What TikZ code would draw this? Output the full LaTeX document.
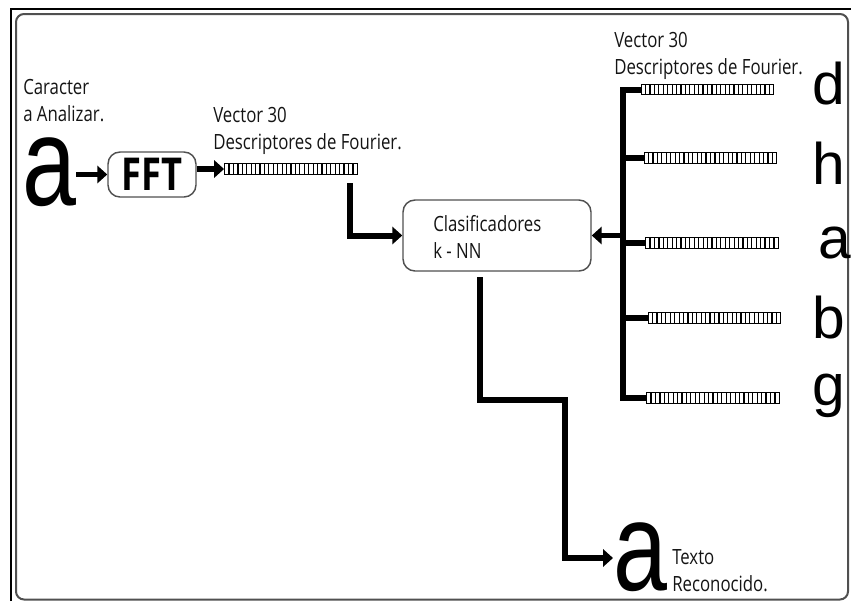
\documentclass[tikz,border=0pt]{standalone}
\usepackage{fontspec}
\usetikzlibrary{arrows.meta,calc}
\newfontfamily\uifont[FakeStretch=0.8]{Open Sans}
\newfontfamily\letfont[FakeStretch=0.77]{Liberation Sans}
\newfontfamily\letfontB{Liberation Sans}
\definecolor{txt}{HTML}{141414}
\definecolor{frm}{HTML}{505050}
\tikzset{
  lbl/.style={anchor=base west, inner sep=0pt, align=left, text=txt,
    font=\uifont\fontsize{15.75}{20.25}\selectfont},
  bigletter/.style={anchor=base west, inner sep=0pt,
    font=\letfont\fontsize{94.5}{94.5}\selectfont},
  smallletter/.style={anchor=base west, inner sep=0pt,
    font=\letfontB\fontsize{44}{44}\selectfont},
  rbox/.style={draw=frm, line width=1.1pt, rounded corners=9pt, fill=white},
  vbar/.style={draw=black, line width=0.9pt, minimum width=99.5pt, minimum height=8pt,
    inner sep=0pt, path picture={
      \foreach \i in {1,...,29}{
        \draw[line width=0.9pt]
          ($(path picture bounding box.south west)!\i/30!(path picture bounding box.south east)$) --
          ($(path picture bounding box.north west)!\i/30!(path picture bounding box.north east)$);}}},
  conn/.style={line width=4.5pt, line cap=butt},
  arr/.style={line width=4pt, -{Triangle[length=7.5pt,width=13pt]}},
}
\begin{document}
\begin{tikzpicture}[x=0.75pt,y=-0.75pt]
\useasboundingbox (0,0) rectangle (851,601);
% frame
\draw[line width=1.5pt] (11,601) -- (11,9) -- (851,9);
\draw[draw=frm, line width=1.5pt, rounded corners=6pt] (16,14) rectangle (848,599.5);

% left part
\node[lbl] (lab1) at (23,121) {Caracter\\a Analizar.};
\node[bigletter] (aL) at (22,205) {a};
\node[rbox, minimum width=66pt, minimum height=33.75pt, inner sep=0pt,
      font=\uifont\bfseries\fontsize{34}{34}\selectfont] (fft) at (152,174.5) {FFT};
\node[lbl] (lab2) at (213,149) {Vector 30\\Descriptores de Fourier.};
\node[vbar] (bar0) at (291,169) {};

\draw[arr] (fft.west -| aL.east) -- (fft.west);
\draw[arr] (bar0.west -| fft.east) -- (bar0.west);

% classifier
\node[rbox, minimum width=141pt, minimum height=53.25pt] (clf) at (497,235.5) {};
\node[lbl] (lab3) at (433,258) {Clasificadores\\k - NN};
\coordinate (c1) at (350,183);
\draw[conn, -{Triangle[length=7.5pt,width=13pt]}] (c1) |- (clf.west);

% right part
\node[lbl] (lab4) at (614,74) {Vector 30\\Descriptores de Fourier.};
\node[vbar] (bar1) at (707.5,89.5) {};
\node[vbar] (bar2) at (710.5,158) {};
\node[vbar] (bar3) at (712,243) {};
\node[vbar] (bar4) at (714.5,318) {};
\node[vbar] (bar5) at (713,398) {};
\coordinate (bt) at (623,89.5);
\coordinate (bb) at (623,398);
\draw[conn, line join=miter] (bar1.west) -- (bt) -- (bb) -- (bar5.west);
\draw[conn] (bt |- bar2.west) -- (bar2.west);
\draw[conn] (bt |- bar3.west) -- (bar3.west);
\draw[conn] (bt |- bar4.west) -- (bar4.west);
\draw[arr] (clf.east -| bt) -- (clf.east);

\node[smallletter] (ld) at (812,104) {d};
\node[smallletter] (lh) at (812,184) {h};
\node[smallletter] (la) at (818,258) {a};
\node[smallletter] (lb) at (812,338) {b};
\node[smallletter] (lg) at (812,405) {g};

% output
\node[bigletter] (aR) at (613,590) {a};
\node[lbl] (lab5) at (672,591) {Texto\\Reconocido.};
\coordinate (c2) at (480,277);
\draw[conn, line join=miter, -{Triangle[length=7.5pt,width=13pt]}]
  (c2) -- (480,400) -- (565,400) -- (565,558) -- (aR.west |- 0,558);
\end{tikzpicture}
\end{document}
